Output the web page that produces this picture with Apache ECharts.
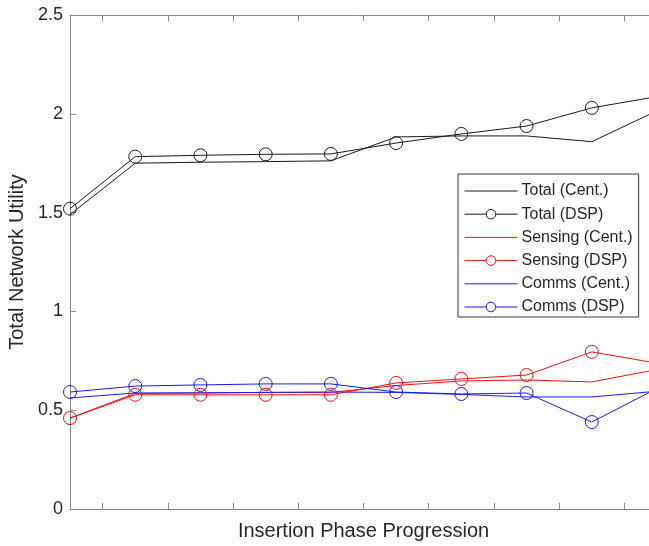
<!DOCTYPE html>
<html>
<head>
<meta charset="utf-8">
<script src="https://cdn.jsdelivr.net/npm/echarts@6/dist/echarts.min.js"></script>
<style>
  html, body { margin: 0; padding: 0; background: #fff; }
  #chart { width: 649px; height: 546px; }
</style>
</head>
<body>
<div id="chart"></div>
<script>
// Insertion steps (x positions) and utility values per method
const steps = [0, 1, 2, 3, 4, 5, 6, 7, 8, 9];
const totalCent   = [1.49, 1.75, 1.755, 1.758, 1.762, 1.883, 1.888, 1.888, 1.859, 2.015];
const totalDsp    = [1.52, 1.783, 1.79, 1.795, 1.797, 1.852, 1.898, 1.938, 2.03, 2.087];
const sensingCent = [0.46, 0.585, 0.587, 0.59, 0.59, 0.625, 0.648, 0.653, 0.643, 0.706];
const sensingDsp  = [0.46, 0.578, 0.578, 0.578, 0.578, 0.638, 0.658, 0.678, 0.795, 0.738];
const commsCent   = [0.562, 0.587, 0.588, 0.59, 0.592, 0.59, 0.58, 0.567, 0.567, 0.596];
const commsDsp    = [0.592, 0.622, 0.628, 0.633, 0.633, 0.592, 0.582, 0.587, 0.44, 0.61];
const xTicks = [0.5, 1.5, 2.5, 3.5, 4.5, 5.5, 6.5, 7.5, 8.5];
const yTicks = ['0', '0.5', '1', '1.5', '2', '2.5'];

const FONT = '"Liberation Sans", Arial, Helvetica, sans-serif';
const AXIS_COLOR = '#8a8a8a';
const TEXT_COLOR = '#262626';
const BLACK = '#1a1a1a', RED = '#ee1111', BLUE = '#1a1aee';

function pairs(ys) { return steps.map((x, i) => [x, ys[i]]); }

function lineSeries(name, ys, color, markers) {
  return {
    name: name,
    type: 'line',
    data: pairs(ys),
    symbol: markers ? 'circle' : 'none',
    symbolSize: 13,
    showSymbol: markers,
    clip: true,
    lineStyle: { color: color, width: 1 },
    itemStyle: { color: 'rgba(255,255,255,0)', borderColor: color, borderWidth: 1 },
    emphasis: { disabled: true },
    z: markers ? 3 : 2
  };
}

const xAxisBase = {
  type: 'value',
  min: 0,
  max: 9,
  splitLine: { show: false },
  axisLine: { show: true, onZero: false, lineStyle: { color: AXIS_COLOR, width: 1 } },
  axisTick: { show: true, inside: true, length: 6, customValues: xTicks, lineStyle: { color: AXIS_COLOR } },
  axisLabel: { show: false }
};

// legend entry: Cent. items show a plain line, DSP items a line with a ring
function legendItem(name, color, markers) {
  return {
    name: name,
    itemStyle: markers
      ? { color: '#ffffff', borderColor: color, borderWidth: 1 }
      : { opacity: 0 },
    lineStyle: { color: color, width: 1 }
  };
}

const chart = echarts.init(document.getElementById('chart'), null, { renderer: 'canvas' });
chart.setOption({
  animation: false,
  backgroundColor: '#ffffff',
  // the plotting box runs slightly past the right edge of the canvas
  grid: { left: 70, top: 15, width: 587, bottom: 37, containLabel: false, outerBoundsMode: 'none' },
  xAxis: [
    Object.assign({}, xAxisBase, {
      position: 'bottom',
      name: 'Insertion Phase Progression',
      nameLocation: 'middle',
      nameGap: 12,
      nameTextStyle: { fontFamily: FONT, fontSize: 20, color: TEXT_COLOR, verticalAlign: 'top' }
    }),
    Object.assign({}, xAxisBase, { position: 'top' })
  ],
  yAxis: {
    type: 'value',
    min: 0,
    max: 2.5,
    interval: 0.5,
    name: 'Total Network Utility',
    nameLocation: 'middle',
    nameGap: 42,
    nameTextStyle: { fontFamily: FONT, fontSize: 20, color: TEXT_COLOR },
    splitLine: { show: false },
    axisLine: { show: true, lineStyle: { color: AXIS_COLOR, width: 1 } },
    axisTick: { show: true, inside: true, length: 6, lineStyle: { color: AXIS_COLOR } },
    axisLabel: {
      fontFamily: FONT, fontSize: 18, color: TEXT_COLOR, margin: 7,
      formatter: (v) => yTicks[Math.round(v / 0.5)]
    }
  },
  legend: {
    left: 458,
    top: 174,
    orient: 'vertical',
    align: 'left',
    backgroundColor: '#ffffff',
    borderColor: '#3a3a3a',
    borderWidth: 1,
    padding: [9, 6, 2, 6],
    itemWidth: 53,
    itemHeight: 12,
    itemGap: 7.2,
    selectedMode: false,
    textStyle: { fontFamily: FONT, fontSize: 16, color: TEXT_COLOR, lineHeight: 16, padding: [0, 0, 0, -1] },
    data: [
      legendItem('Total (Cent.)', BLACK, false),
      legendItem('Total (DSP)', BLACK, true),
      legendItem('Sensing (Cent.)', RED, false),
      legendItem('Sensing (DSP)', RED, true),
      legendItem('Comms (Cent.)', BLUE, false),
      legendItem('Comms (DSP)', BLUE, true)
    ]
  },
  series: [
    lineSeries('Total (Cent.)', totalCent, BLACK, false),
    lineSeries('Total (DSP)', totalDsp, BLACK, true),
    lineSeries('Sensing (Cent.)', sensingCent, RED, false),
    lineSeries('Sensing (DSP)', sensingDsp, RED, true),
    lineSeries('Comms (Cent.)', commsCent, BLUE, false),
    lineSeries('Comms (DSP)', commsDsp, BLUE, true)
  ]
});
</script>
</body>
</html>
